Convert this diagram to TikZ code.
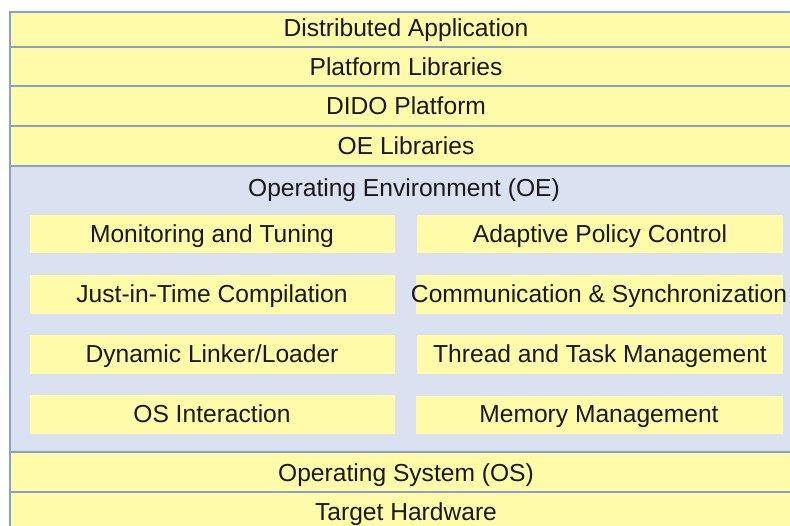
\documentclass[tikz,border=0pt]{standalone}
\usepackage{fontspec}
\setmainfont{Liberation Sans}
\definecolor{bandyellow}{RGB}{255,251,168}
\definecolor{oeblue}{RGB}{218,226,242}
\definecolor{edgeblue}{RGB}{135,160,205}
\begin{document}
\begin{tikzpicture}[x=1pt,y=-1pt,
  lbl/.style={font=\fontsize{24.6}{28}\selectfont, text=black!90, inner sep=0pt, anchor=base},
  band/.style={fill=bandyellow, draw=edgeblue, line width=1.8pt},
  oeband/.style={fill=oeblue, draw=edgeblue, line width=1.8pt},
  inbox/.style={fill=bandyellow, draw=none}]
\useasboundingbox (0,0) rectangle (790,526);
\fill[white] (0,0) rectangle (790,526);
\begin{scope}
\clip (0,0) rectangle (790,526);
% bands
\draw[band] (10,12) rectangle (806,47);
\draw[band] (10,47) rectangle (806,86);
\draw[band] (10,86) rectangle (806,126);
\draw[band] (10,126) rectangle (806,166);
\draw[oeband] (10,166) rectangle (806,452);
\draw[band] (10,452) rectangle (806,492);
\draw[band] (10,492) rectangle (806,540);
% inner boxes
\fill[inbox] (30,215) rectangle (395,253);
\fill[inbox] (30,275) rectangle (395,314);
\fill[inbox] (30,335) rectangle (395,374);
\fill[inbox] (30,395) rectangle (395,434);
\fill[inbox] (417,215) rectangle (783,253);
\fill[inbox] (416,275) rectangle (783,314);
\fill[inbox] (417,335) rectangle (783,374);
\fill[inbox] (416,396) rectangle (783,434);
\end{scope}
% labels
\node[lbl] (da) at (406,37) {Distributed Application};
\node[lbl] (pl) at (406,76) {Platform Libraries};
\node[lbl] (dp) at (406,115) {DIDO Platform};
\node[lbl] (oel) at (406,155) {OE Libraries};
\node[lbl] (oe) at (404,197) {Operating Environment (OE)};
\node[lbl] (mt) at (212,243) {Monitoring and Tuning};
\node[lbl] (jit) at (212,303) {Just-in-Time Compilation};
\node[lbl] (dl) at (212,363) {Dynamic Linker/Loader};
\node[lbl] (osi) at (212,423) {OS Interaction};
\node[lbl] (apc) at (600,243) {Adaptive Policy Control};
\node[lbl] (cs) at (599,303) {Communication \& Synchronization};
\node[lbl] (ttm) at (600,363) {Thread and Task Management};
\node[lbl] (mm) at (599,423) {Memory Management};
\node[lbl] (os) at (406,482) {Operating System (OS)};
\node[lbl] (th) at (406,520) {Target Hardware};
\end{tikzpicture}
\end{document}
